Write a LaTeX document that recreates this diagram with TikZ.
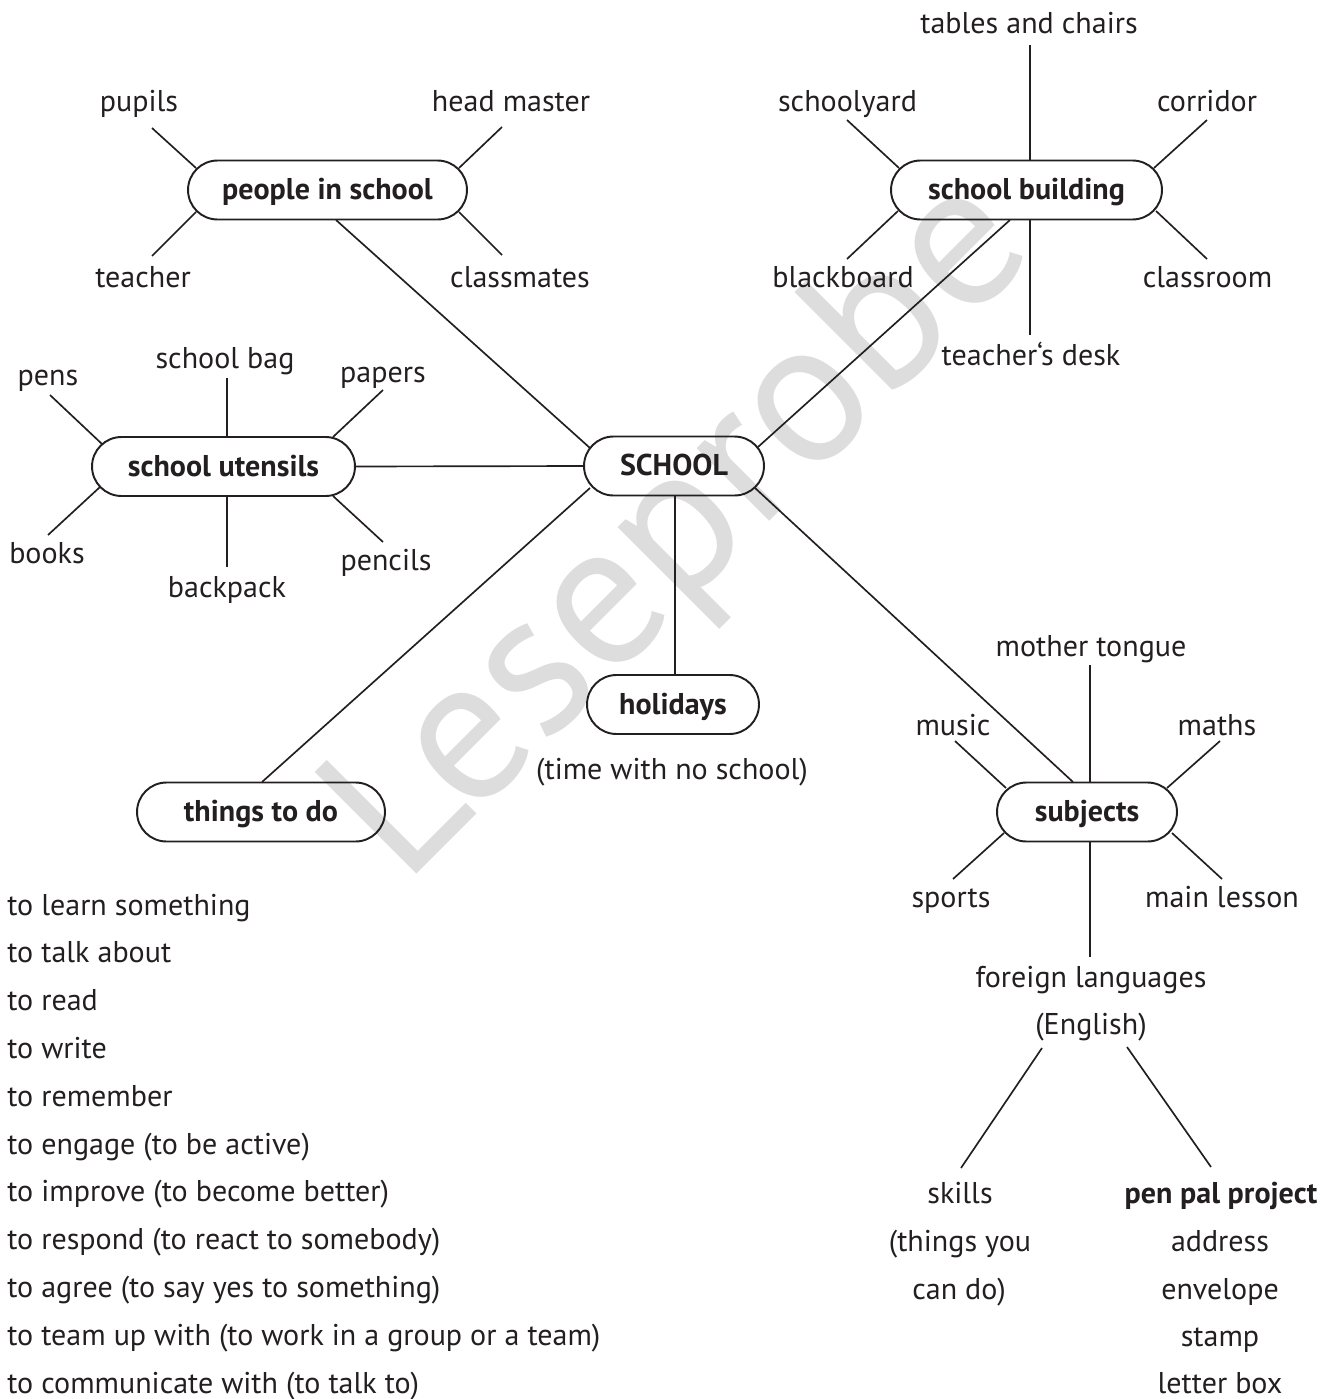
\documentclass[tikz,border=0pt]{standalone}
\usepackage{fontspec}
\setmainfont{PT Sans}
\usetikzlibrary{shapes.misc}
\definecolor{ink}{HTML}{231F20}
\definecolor{wmgray}{HTML}{DDDDDD}
\tikzset{
  lbl/.style={font=\fontsize{17.1}{20}\selectfont, inner sep=0pt, anchor=base, text=ink},
  lstl/.style={font=\fontsize{17.1}{20}\selectfont, inner sep=0pt, anchor=base west, text=ink},
  hub/.style={rounded rectangle, draw=ink, line width=1.1pt, minimum height=1.18cm, inner sep=0pt,
     text height=11.3pt, text depth=0pt, text=ink, font=\fontsize{17.1}{20}\selectfont\bfseries},
  spoke/.style={draw=ink, line width=0.95pt},
}
\begin{document}
\begin{tikzpicture}[x=0.02cm,y=-0.02cm]
\useasboundingbox (0,0) rectangle (1335,1399);
% watermark
\node[font=\fontsize{117}{117}\selectfont, text=wmgray, rotate=45, anchor=base west, inner sep=0pt] (wm) at (404,887) {Leseprobe};

% hubs
\node[hub, minimum width=5.58cm] (people) at (327.5,190) {people in school};
\node[hub, minimum width=5.42cm] (building) at (1026.5,190) {school building};
\node[hub, minimum width=5.26cm] (utensils) at (223.5,466.5) {school utensils};
\node[hub, minimum width=3.6cm] (SCHOOL) at (674,466) {SCHOOL};
\node[hub, minimum width=3.44cm] (holidays) at (673,704.5) {holidays};
\node[hub, minimum width=4.96cm] (things) at (261,812) {things to do};
\node[hub, minimum width=3.6cm] (subjects) at (1087,812) {subjects};

% labels: people in school
\node[lbl] (pupils) at (139,112) {pupils};
\node[lbl] (headmaster) at (511,112) {head master};
\node[lbl] (teacher) at (143,287) {teacher};
\node[lbl] (classmates) at (520,287) {classmates};
% school building
\node[lbl] (tables) at (1029,34) {tables and chairs};
\node[lbl] (schoolyard) at (847.5,112) {schoolyard};
\node[lbl] (corridor) at (1207,112) {corridor};
\node[lbl] (blackboard) at (843,287) {blackboard};
\node[lbl] (classroom) at (1207.5,287) {classroom};
\node[lbl] (desk) at (1031,365) {teacher‘s desk};
% school utensils
\node[lbl] (pens) at (48,385) {pens};
\node[lbl] (bag) at (225,368) {school bag};
\node[lbl] (papers) at (383,382) {papers};
\node[lbl] (books) at (47,563) {books};
\node[lbl] (backpack) at (227,597) {backpack};
\node[lbl] (pencils) at (386,570) {pencils};
% holidays
\node[lbl] (timeno) at (672,779) {(time with no school)};
% subjects
\node[lbl] (mother) at (1091,656) {mother tongue};
\node[lbl] (music) at (953,735) {music};
\node[lbl] (maths) at (1217,735) {maths};
\node[lbl] (sports) at (951,907) {sports};
\node[lbl] (mainlesson) at (1222,907) {main lesson};
\node[lbl] (foreign) at (1091,987) {foreign languages};
\node[lbl] (english) at (1091,1034) {(English)};
\node[lbl] (skills) at (960,1203) {skills};
\node[lbl] (thingsyou) at (960,1251) {(things you};
\node[lbl] (cando) at (959,1299) {can do)};
\node[lbl, font=\fontsize{17.1}{20}\selectfont\bfseries] (penpal) at (1221,1203) {pen pal project};
\node[lbl] (address) at (1220,1251) {address};
\node[lbl] (envelope) at (1220,1299) {envelope};
\node[lbl] (stamp) at (1220,1346) {stamp};
\node[lbl] (letterbox) at (1220,1393) {letter box};
% things to do list
\foreach \t [count=\i from 0] in {to learn something, to talk about, to read, to write, to remember,
  to engage (to be active), to improve (to become better), to respond (to react to somebody),
  to agree (to say yes to something), to team up with (to work in a group or a team),
  to communicate with (to talk to)}
  \node[lstl] (todo\i) at (7,915+47.8*\i) {\t};

% spokes: people in school
\draw[spoke] ([shift={(-131.5,-22)}]people.center) -- ++(-44,-40);
\draw[spoke] ([shift={(-131.5,22)}]people.center) -- ++(-44,44);
\draw[spoke] ([shift={(131.5,-22)}]people.center) -- ++(43,-41);
\draw[spoke] ([shift={(131.5,22)}]people.center) -- ++(43,43);
% spokes: school building
\draw[spoke] ([shift={(-127.5,-22)}]building.center) -- ++(-52,-48);
\draw[spoke] ([shift={(-128.5,21)}]building.center) -- ++(-51,48);
\draw[spoke] ([shift={(127.5,-22)}]building.center) -- ++(53,-48);
\draw[spoke] ([shift={(129.5,21)}]building.center) -- ++(51,48);
\draw[spoke] ([shift={(3.5,-30)}]building.center) -- ++(0,-115);
\draw[spoke] ([shift={(3.5,30)}]building.center) -- ++(0,115);
% spokes: school utensils
\draw[spoke] ([shift={(-121.5,-22.5)}]utensils.center) -- ++(-52,-49);
\draw[spoke] ([shift={(-123.5,20.5)}]utensils.center) -- ++(-52,48);
\draw[spoke] ([shift={(3.5,-29.5)}]utensils.center) -- ++(0,-59);
\draw[spoke] ([shift={(3.5,29.5)}]utensils.center) -- ++(0,71);
\draw[spoke] ([shift={(109.5,-29.5)}]utensils.center) -- ++(50,-47);
\draw[spoke] ([shift={(109.5,29.5)}]utensils.center) -- ++(50,46);
% spokes: subjects
\draw[spoke] ([shift={(3,-30)}]subjects.center) -- ++(0,-117);
\draw[spoke] ([shift={(3,30)}]subjects.center) -- ++(0,115);
\draw[spoke] ([shift={(-81,-24)}]subjects.center) -- ++(-51,-47);
\draw[spoke] ([shift={(80,-24)}]subjects.center) -- ++(53,-47);
\draw[spoke] ([shift={(-83,21)}]subjects.center) -- ++(-51,46);
\draw[spoke] ([shift={(85,21)}]subjects.center) -- ++(50,46);
% english to skills / pen pal
\draw[spoke] ([shift={(-49,14)}]english.base) -- ([shift={(1,-35)}]skills.base);
\draw[spoke] ([shift={(36,13)}]english.base) -- ([shift={(-10,-36)}]penpal.base);

% main connectors
\draw[spoke] ([shift={(8.5,30)}]people.center) -- ([shift={(-84,-18)}]SCHOOL.center);
\draw[spoke] ([shift={(-16.5,30)}]building.center) -- ([shift={(84,-19)}]SCHOOL.center);
\draw[spoke] (utensils.east) -- (SCHOOL.west);
\draw[spoke] ([shift={(1,30)}]SCHOOL.center) -- ([shift={(2,-29.5)}]holidays.center);
\draw[spoke] ([shift={(-84,22)}]SCHOOL.center) -- ([shift={(1,-30)}]things.center);
\draw[spoke] ([shift={(81,22)}]SCHOOL.center) -- ([shift={(-14,-30)}]subjects.center);
\end{tikzpicture}
\end{document}
